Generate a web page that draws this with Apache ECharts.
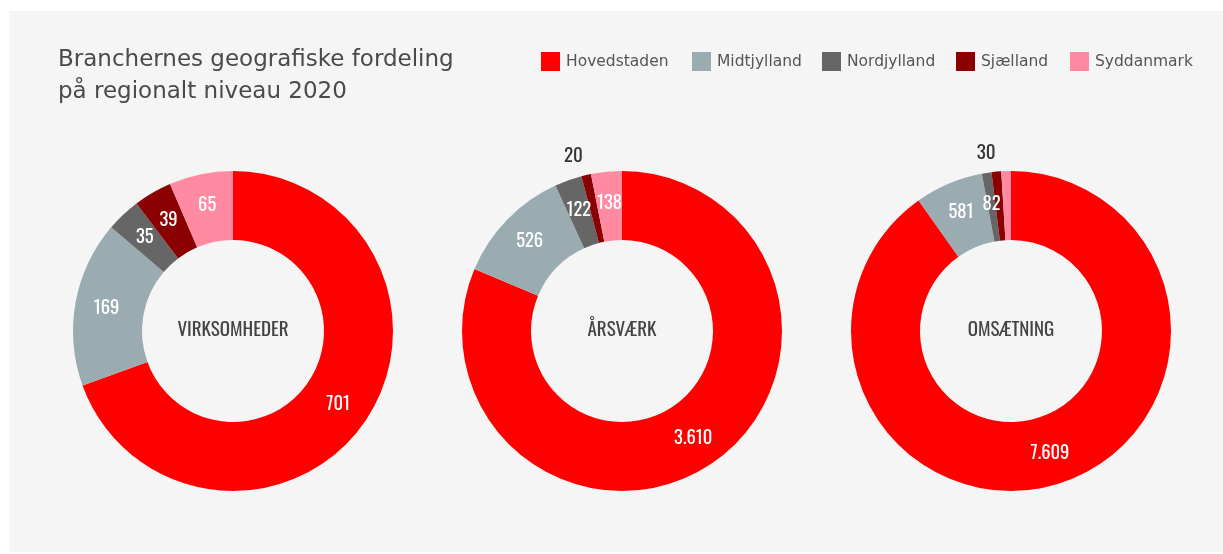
<!DOCTYPE html>
<html>
<head>
<meta charset="utf-8">
<script src="https://cdn.jsdelivr.net/npm/echarts@6/dist/echarts.min.js"></script>
<style>
html,body{margin:0;padding:0;background:#ffffff;}
#panel{position:absolute;left:9px;top:11px;width:1214px;height:541px;background:#f5f5f5;}
#chart{position:absolute;left:0;top:0;width:1223px;height:554px;}
</style>
</head>
<body>
<div id="panel"></div>
<div id="chart"></div>
<script>
const regions = ['Hovedstaden', 'Midtjylland', 'Nordjylland', 'Sjælland', 'Syddanmark'];
const colors = ['#ff0000', '#9aabb1', '#666666', '#8b0000', '#ff8aa1'];
const chartNames = ['VIRKSOMHEDER', 'ÅRSVÆRK', 'OMSÆTNING'];
const virksomheder = [701, 169, 35, 39, 65];
const aarsvaerk = [3610, 526, 122, 20, 138];
const omsaetning = [7609, 581, 82, 30, 80];
const titleText = 'Branchernes geografiske fordeling\npå regionalt niveau 2020';

const datasets = [virksomheder, aarsvaerk, omsaetning];
const centersX = [233, 622, 1011];
const centerY = 331;
const legendLefts = [541, 692, 822, 956, 1070];
const numFont = '"Oswald", "Liberation Sans Narrow", "DejaVu Sans Condensed", sans-serif';
const textFont = '"DejaVu Sans", sans-serif';

function fmt(v) {
  return String(v).replace(/\B(?=(\d{3})+(?!\d))/g, '.');
}

const series = datasets.map((vals, si) => {
  const total = vals.reduce((a, b) => a + b, 0);
  return {
    type: 'pie',
    center: [centersX[si], centerY],
    radius: [91, 160],
    startAngle: 90,
    clockwise: true,
    minAngle: 3.5,
    avoidLabelOverlap: false,
    silent: true,
    labelLine: { show: false, length: 19, length2: 0 },
    label: {
      show: true,
      position: 'inside',
      color: '#ffffff',
      fontFamily: numFont,
      fontSize: 18.5,
      formatter: p => fmt(p.value)
    },
    data: vals.map((v, i) => {
      const d = { name: regions[i], value: v, itemStyle: { color: colors[i] } };
      if (v / total < 0.005) {
        d.label = { position: 'outside', color: '#333333', fontSize: 19, offset: [6, 0] };
        d.labelLine = { show: false, length: 19, length2: 0 };
      }
      return d;
    })
  };
});

const titles = [{
  text: titleText,
  left: 53,
  top: 39,
  textStyle: {
    fontFamily: textFont,
    fontWeight: 'normal',
    fontSize: 23,
    lineHeight: 32,
    color: '#4a4a4a'
  }
}].concat(chartNames.map((n, i) => ({
  text: n,
  left: centersX[i],
  top: centerY - 10,
  padding: 0,
  textAlign: 'center',
  textStyle: {
    fontFamily: numFont,
    fontWeight: 'normal',
    fontSize: 19,
    color: '#444444'
  }
})));

const legends = regions.map((r, i) => ({
  data: [r],
  left: legendLefts[i],
  top: 52,
  padding: 0,
  itemWidth: 19,
  itemHeight: 19,
  icon: 'rect',
  selectedMode: false,
  textStyle: {
    fontFamily: textFont,
    fontSize: 15.5,
    color: '#555555',
    padding: [0, 0, 0, 1]
  }
}));

const chart = echarts.init(document.getElementById('chart'), null, { renderer: 'canvas' });
chart.setOption({
  backgroundColor: 'transparent',
  animation: false,
  color: colors,
  title: titles,
  legend: legends,
  series: series
});
</script>
</body>
</html>
